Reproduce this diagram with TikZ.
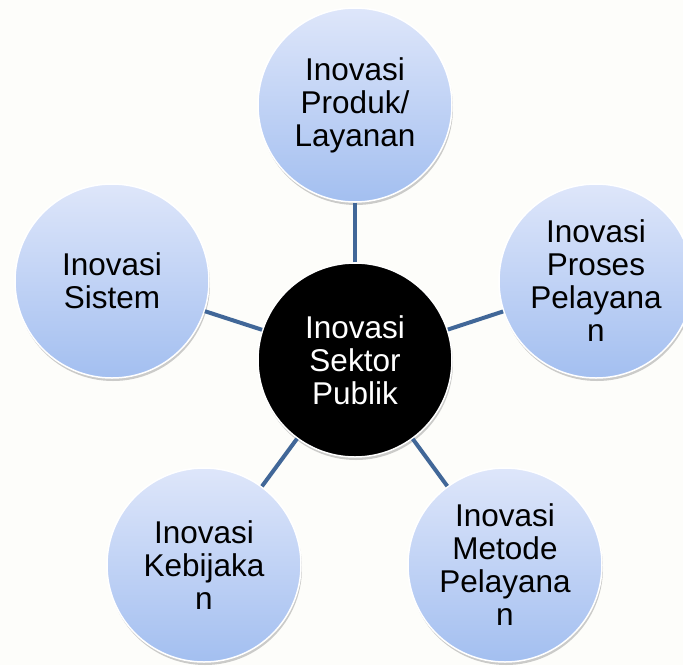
\documentclass[tikz,border=0pt]{standalone}
\usepackage{fontspec}
\setmainfont{Liberation Sans}
\usetikzlibrary{shadows}
\definecolor{linkblue}{RGB}{65,103,152}
\definecolor{bubbletop}{RGB}{222,230,250}
\definecolor{bubblebot}{RGB}{163,191,240}
\definecolor{paper}{RGB}{253,253,250}

\begin{document}
\begin{tikzpicture}[x=1pt,y=1pt,
	disc/.style={circle, minimum size=194pt, inner sep=0pt, draw=white, line width=1.5pt,
		drop shadow={shadow xshift=1pt, shadow yshift=-3pt, opacity=0.4},
		align=center, font=\fontsize{31.5}{33}\selectfont},
	bubble/.style={disc, top color=bubbletop, bottom color=bubblebot},
	hub/.style={disc, fill=black, text=white},
	link/.style={draw=linkblue, line width=4pt}]
					\fill[paper] (0,0) rectangle (683,-665);
					\useasboundingbox (0,0) rectangle (683,-665);

					\node[hub] (sektor) at (355,-360) {Inovasi\\Sektor\\Publik};

					\node[bubble] (produk) at (355,-105) {Inovasi\\Produk/\\Layanan};
					\node[bubble] (proses) at (596,-281) {Inovasi\\Proses\\Pelayana\\n};
					\node[bubble] (metode) at (505,-565) {Inovasi\\Metode\\Pelayana\\n};
					\node[bubble] (kebijakan) at (204,-565) {Inovasi\\Kebijaka\\n};
					\node[bubble] (sistem) at (112,-281) {Inovasi\\Sistem};


					\draw[link] (sektor) to (produk);

					\draw[link] (sektor) to (proses);

					\draw[link] (sektor) to (metode);

					\draw[link] (sektor) to (kebijakan);

					\draw[link] (sektor) to (sistem);
				\end{tikzpicture}
\end{document}
